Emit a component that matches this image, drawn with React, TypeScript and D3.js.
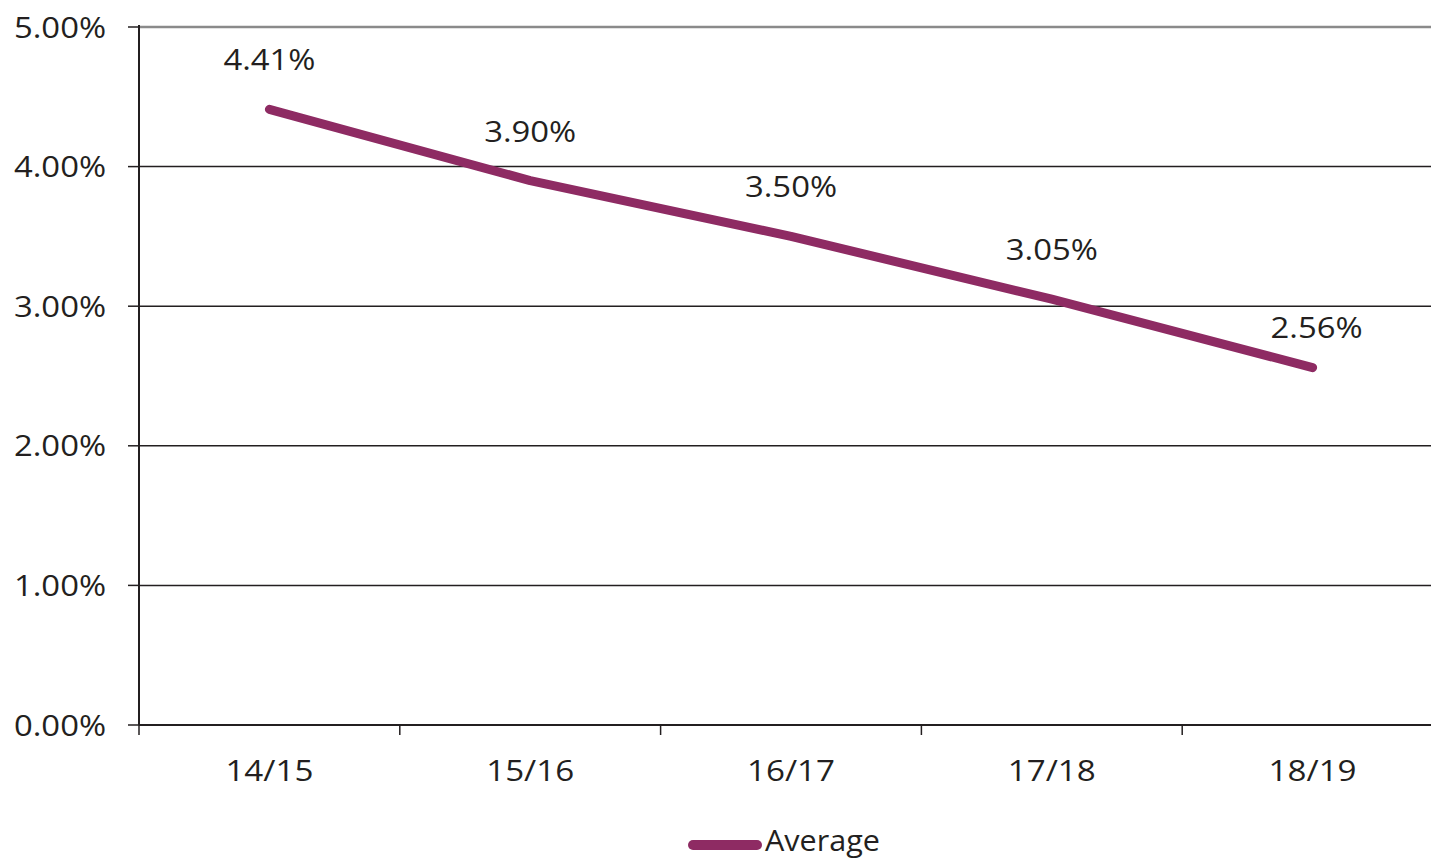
import React from "react";
import * as d3 from "d3";

const categories = ["14/15", "15/16", "16/17", "17/18", "18/19"];
const averageValues = [4.41, 3.9, 3.5, 3.05, 2.56];
const yTicks = [0, 1, 2, 3, 4, 5];
const seriesName = "Average";

const W = 1431;
const H = 861;
const left = 139;
const band = 260.8;
const top = 27;
const bottom = 725;
const lineColor = "#8e2b63";
const textColor = "#231f20";
const font = "'Open Sans', sans-serif";

export default function App() {
  const x = d3.scaleBand<string>().domain(categories).range([left, left + band * categories.length]).padding(0);
  const y = d3.scaleLinear().domain([0, 5]).range([bottom, top]);
  const cx = (c: string) => (x(c) as number) + x.bandwidth() / 2;
  const line = d3
    .line<number>()
    .x((_, i) => cx(categories[i]))
    .y((d) => y(d));
  const right = left + band * categories.length;
  const boundaries = d3.range(categories.length + 1).map((i) => left + i * x.bandwidth());
  const last = averageValues.length - 1;

  return (
    <svg width={W} height={H} style={{ position: "absolute", left: 0, top: 0, background: "#fff" }}>
      {yTicks.map((t) => (
        <g key={t}>
          {t > 0 && (
            <line
              x1={left}
              x2={right}
              y1={y(t)}
              y2={y(t)}
              stroke={t === 5 ? "#8a8a8a" : textColor}
              strokeWidth={t === 5 ? 2.5 : 1.5}
            />
          )}
          <line x1={128} x2={left} y1={y(t)} y2={y(t)} stroke={textColor} strokeWidth={1.5} />
          <text
            x={106}
            y={y(t)}
            dy="0.35em"
            textAnchor="end"
            fontFamily={font}
            fontSize={30}
            fill={textColor}
            textLength={92}
            lengthAdjust="spacingAndGlyphs"
          >
            {t.toFixed(2) + "%"}
          </text>
        </g>
      ))}
      <line x1={left} x2={left} y1={top - 2} y2={bottom} stroke={textColor} strokeWidth={2} />
      <line x1={left} x2={right} y1={bottom} y2={bottom} stroke={textColor} strokeWidth={2} />
      {boundaries.map((b, i) => (
        <line key={i} x1={b} x2={b} y1={bottom} y2={bottom + 10} stroke={textColor} strokeWidth={1.5} />
      ))}
      {categories.map((c) => (
        <text
          key={c}
          x={cx(c)}
          y={781}
          textAnchor="middle"
          fontFamily={font}
          fontSize={30}
          fill={textColor}
          textLength={88}
          lengthAdjust="spacingAndGlyphs"
        >
          {c}
        </text>
      ))}
      <path d={line(averageValues) || ""} fill="none" stroke={lineColor} strokeWidth={9} strokeLinecap="round" strokeLinejoin="round" />
      {averageValues.map((v, i) => (
        <text
          key={i}
          x={cx(categories[i]) + (i === last ? 4 : 0)}
          y={y(v) - (i === last ? 30 : 39)}
          textAnchor="middle"
          fontFamily={font}
          fontSize={30}
          fill={textColor}
          textLength={92}
          lengthAdjust="spacingAndGlyphs"
        >
          {v.toFixed(2) + "%"}
        </text>
      ))}
      <line x1={693} x2={757} y1={845} y2={845} stroke={lineColor} strokeWidth={10} strokeLinecap="round" />
      <text x={765} y={851} fontFamily={font} fontSize={29} fill={textColor} textLength={115} lengthAdjust="spacingAndGlyphs">
        {seriesName}
      </text>
    </svg>
  );
}
